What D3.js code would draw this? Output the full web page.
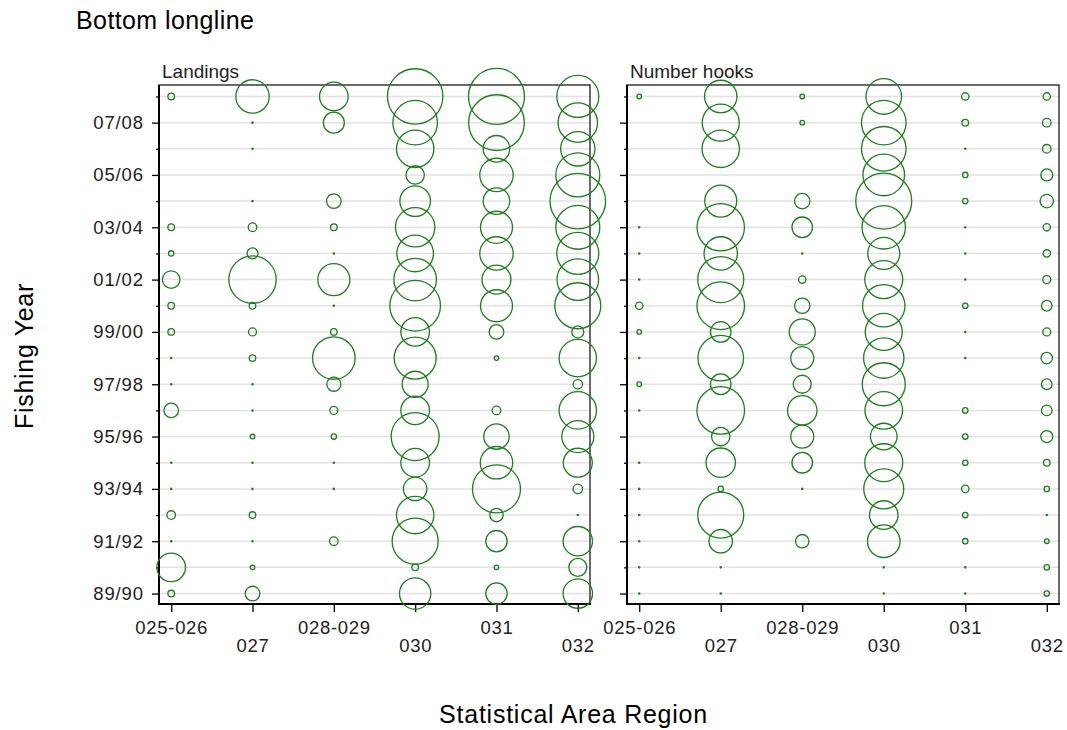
<!DOCTYPE html>
<html>
<head>
<meta charset="utf-8">
<script src="https://cdn.jsdelivr.net/npm/d3@7/dist/d3.min.js"></script>
<style>
  html, body { margin: 0; padding: 0; background: #fff; }
  svg { display: block; }
</style>
</head>
<body>
<svg id="chart" width="1067" height="730"></svg>
<script>
// Fishing years, oldest first (bottom row of each panel)
const years = ["89/90","90/91","91/92","92/93","93/94","94/95","95/96","96/97","97/98","98/99",
               "99/00","00/01","01/02","02/03","03/04","04/05","05/06","06/07","07/08","08/09"];

// Statistical area regions along the x axis
const areas = ["025-026","027","028-029","030","031","032"];

// Relative landings (% of the panel maximum), one value per fishing year; null = no record
const landings025_026 = [1.39, 26.1, 0.05, 2.36, 0.05, 0.05, null, 6.80, 0.05, 0.05, 1.39, 1.39, 9.88, 0.93, 1.39, null, null, null, null, 1.39];
const landings027     = [6.80, 0.67, 0.05, 1.39, 0.05, 0.05, 0.67, 0.05, 0.05, 1.39, 2.04, 1.39, 71.6, 3.86, 2.36, 0.05, null, 0.05, 0.05, 35.6];
const landings028_029 = [null, null, 2.36, null, 0.05, 0.05, 0.93, 2.04, 6.25, 57.9, 1.39, 0.05, 32.7, 0.05, 1.39, 6.80, null, null, 14.1, 26.1];
const landings030     = [31.4, 1.39, 67.5, 44.6, 17.5, 26.1, 73.5, 26.1, 21.6, 56.3, 26.1, 81.6, 57.9, 42.7, 49.5, 29.9, 10.8, 44.6, 63.4, 97.9];
const landings031     = [14.6, 0.67, 14.6, 5.73, 73.5, 33.5, 20.6, 2.36, null, 0.67, 6.80, 32.7, 26.8, 35.6, 32.7, 22.6, 35.6, 22.6, 99.0, 100];
const landings032     = [27.6, 10.3, 27.6, 0.05, 2.82, 26.8, 32.7, 44.6, 2.82, 44.6, 4.59, 67.5, 55.2, 56.3, 61.7, 98.6, 61.7, 37.7, 49.5, 56.3];

// Relative number of hooks set (% of the panel maximum)
const hooks025_026 = [0.05, 0.05, 0.05, 0.05, 0.05, 0.05, null, 0.05, 0.67, 0.05, 0.67, 1.75, 0.05, 0.05, 0.05, null, null, null, null, 0.67];
const hooks027     = [0.05, 0.05, 17.5, 67.5, 0.93, 27.6, 10.8, 72.3, 13.5, 66.3, 13.5, 72.3, 67.5, 35.6, 71.6, 32.7, null, 44.6, 43.7, 33.5];
const hooks028_029 = [null, null, 5.73, null, 0.05, 13.5, 16.9, 27.6, 10.3, 16.9, 21.6, 7.56, 1.75, 0.05, 13.5, 7.56, null, null, 0.67, 0.67];
const hooks030     = [0.05, 0.05, 33.9, 26.1, 51.0, 46.0, 22.6, 45.1, 59.0, 52.0, 43.7, 57.3, 46.0, 32.7, 60.1, 100, 55.2, 63.4, 63.4, 40.4];
const hooks031     = [0.05, 0.05, 0.93, 0.93, 1.75, 0.93, 0.93, 0.93, null, 0.05, 0.05, 0.93, 0.05, 0.05, 0.05, 0.93, 0.93, 0.05, 1.39, 1.75];
const hooks032     = [0.93, 0.93, 0.67, 0.05, 0.93, 1.39, 4.59, 3.58, 3.58, 4.14, 2.04, 3.58, 2.04, 1.75, 1.75, 5.73, 4.59, 2.36, 2.36, 1.75];

const panels = [
  { title: "Landings",     left: 159, right: 590,  labels: true,
    series: [landings025_026, landings027, landings028_029, landings030, landings031, landings032] },
  { title: "Number hooks", left: 627, right: 1059, labels: false,
    series: [hooks025_026, hooks027, hooks028_029, hooks030, hooks031, hooks032] }
];

const FONT = "'Liberation Sans', Arial, Helvetica, sans-serif";
const GREEN = "#1f7d1f";
const plotTop = 85, plotBottom = 604;

const svg = d3.select("#chart");
svg.append("rect").attr("width", 1067).attr("height", 730).attr("fill", "#fff");

// Bubble area proportional to value
const r = d3.scaleSqrt().domain([0, 100]).range([0, 28]);

panels.forEach(p => {
  const x = d3.scalePoint().domain(areas).range([p.left, p.right]).padding(0.15);
  const y = d3.scalePoint().domain(years).range([plotBottom, plotTop + 1]).padding(0.4);
  const g = svg.append("g");

  // horizontal reference lines, one per year
  g.append("g").selectAll("line").data(years).join("line")
    .attr("x1", p.left).attr("x2", p.right)
    .attr("y1", d => y(d)).attr("y2", d => y(d))
    .attr("stroke", "#e2e2e2").attr("stroke-width", 1.5);

  // panel frame
  g.append("rect")
    .attr("x", p.left).attr("y", plotTop)
    .attr("width", p.right - p.left).attr("height", plotBottom - plotTop)
    .attr("fill", "none").attr("stroke", "#2b2b2b").attr("stroke-width", 1.4);

  // y axis: long ticks on labelled years, short ticks in between
  const yAxis = g.append("g")
    .attr("transform", `translate(${p.left},0)`)
    .call(d3.axisLeft(y).tickSize(7).tickSizeOuter(0).tickPadding(7)
      .tickFormat((d, i) => (p.labels && i % 2 === 0) ? d : ""));
  yAxis.select(".domain").remove();
  yAxis.selectAll(".tick line")
    .attr("x2", (d, i) => i % 2 === 0 ? -7 : -3)
    .attr("stroke", "#000").attr("stroke-width", 1.3);
  yAxis.selectAll(".tick text")
    .attr("font-family", FONT).attr("font-size", 18.5).attr("fill", "#222")
    .attr("letter-spacing", 0.9).attr("x", -15);

  // x axis with staggered labels
  const xAxis = g.append("g")
    .attr("transform", `translate(0,${plotBottom})`)
    .call(d3.axisBottom(x).tickSize(8).tickSizeOuter(0));
  xAxis.select(".domain").remove();
  xAxis.selectAll(".tick line").attr("stroke", "#000").attr("stroke-width", 1.3);
  xAxis.selectAll(".tick text")
    .attr("font-family", FONT).attr("font-size", 18.5).attr("fill", "#222")
    .attr("letter-spacing", 0.7)
    .attr("y", (d, i) => i % 2 === 0 ? 17 : 35);

  // heavier left and bottom axis lines
  g.append("line").attr("x1", p.left).attr("x2", p.left).attr("y1", plotTop).attr("y2", plotBottom + 1)
    .attr("stroke", "#000").attr("stroke-width", 2);
  g.append("line").attr("x1", p.left - 1).attr("x2", p.right + 1).attr("y1", plotBottom).attr("y2", plotBottom)
    .attr("stroke", "#000").attr("stroke-width", 2.2);

  // panel title
  g.append("text").attr("x", p.left + 3).attr("y", 77.5)
    .attr("font-family", FONT).attr("font-size", 19).attr("fill", "#222")
    .text(p.title);

  // bubbles
  const cells = [];
  p.series.forEach((vals, ai) => {
    vals.forEach((v, yi) => {
      if (v !== null) cells.push({ area: areas[ai], year: years[yi], value: v });
    });
  });
  g.append("g").selectAll("circle").data(cells).join("circle")
    .attr("cx", d => x(d.area))
    .attr("cy", d => y(d.year))
    .attr("r", d => Math.max(r(d.value), 0.6))
    .attr("fill", "none")
    .attr("stroke", GREEN)
    .attr("stroke-width", 1.3);
});

// chart and axis titles
svg.append("text").attr("x", 76).attr("y", 29)
  .attr("font-family", FONT).attr("font-size", 25).attr("fill", "#000")
  .attr("letter-spacing", 0.4)
  .text("Bottom longline");

svg.append("text").attr("x", 573.5).attr("y", 723)
  .attr("text-anchor", "middle")
  .attr("font-family", FONT).attr("font-size", 25).attr("fill", "#000")
  .attr("letter-spacing", 0.75)
  .text("Statistical Area Region");

svg.append("text")
  .attr("transform", "translate(33,356) rotate(-90)")
  .attr("text-anchor", "middle")
  .attr("font-family", FONT).attr("font-size", 25).attr("fill", "#000")
  .attr("letter-spacing", 0.7)
  .text("Fishing Year");
</script>
</body>
</html>
